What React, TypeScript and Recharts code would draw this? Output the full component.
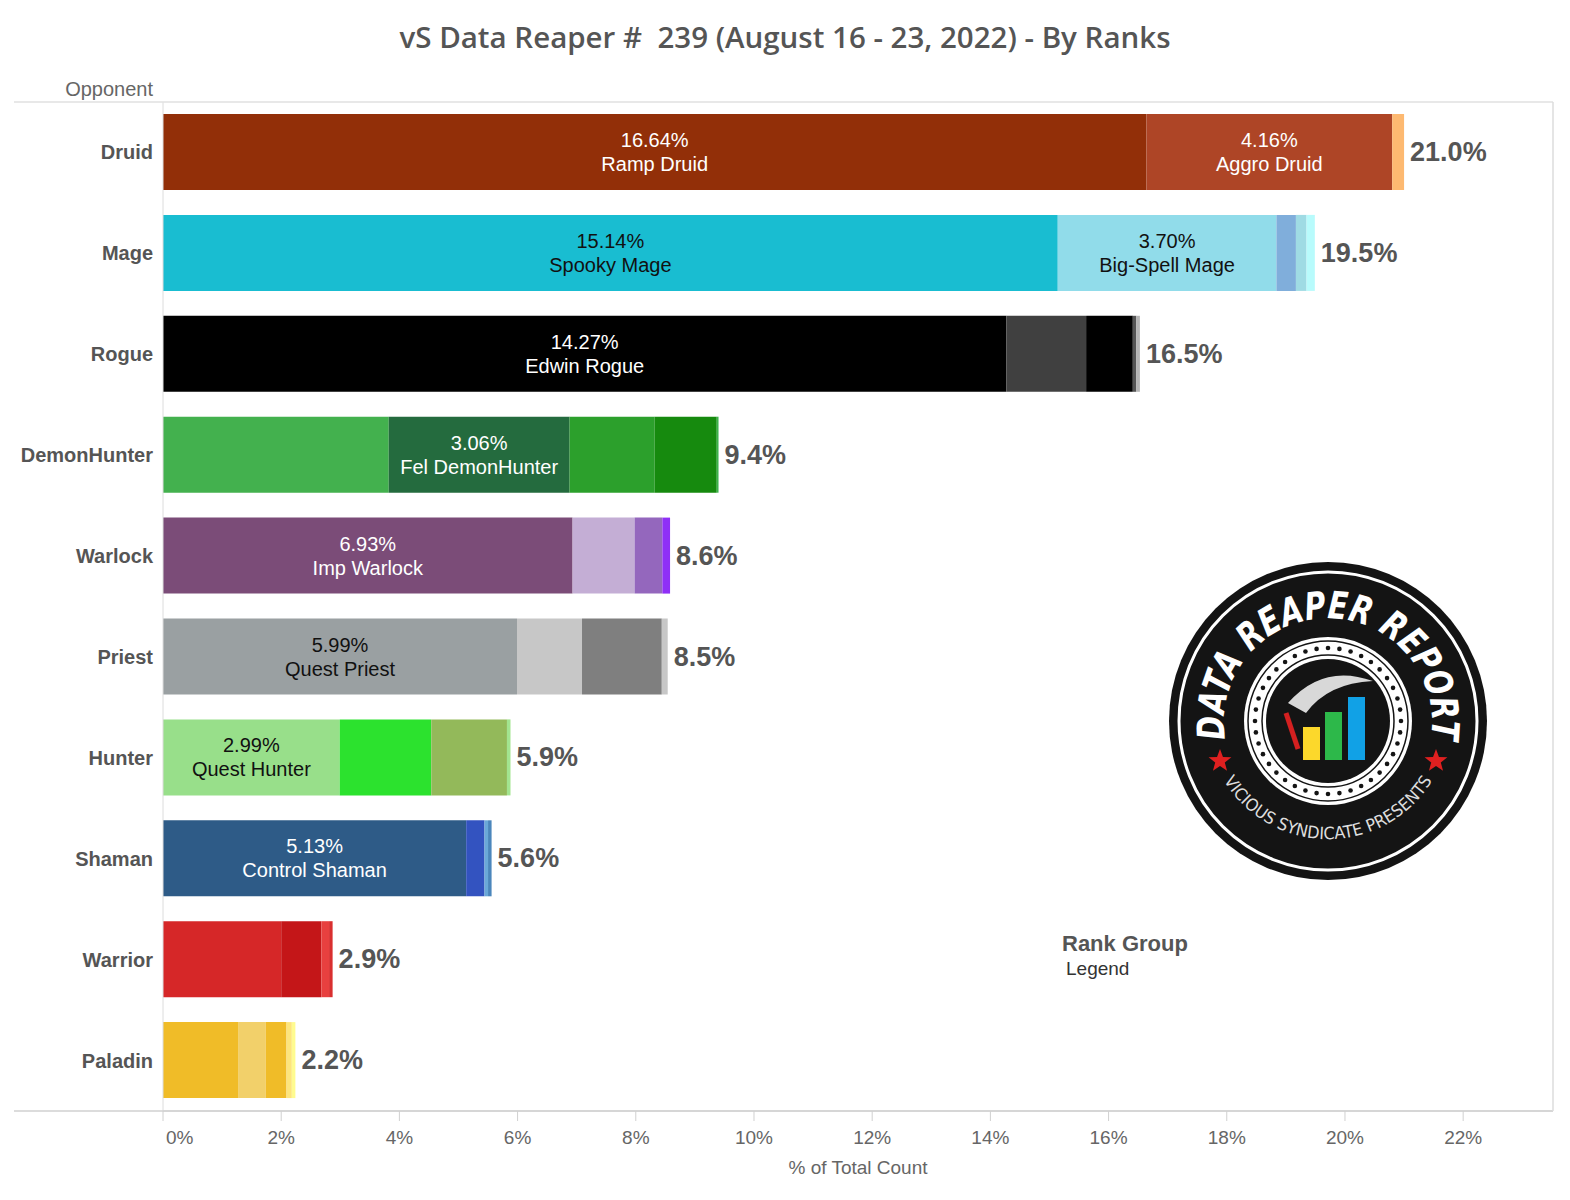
import React from "react";
import { BarChart, Bar, Cell, XAxis, YAxis, LabelList } from "recharts";

const classes = [
  "Druid",
  "Mage",
  "Rogue",
  "DemonHunter",
  "Warlock",
  "Priest",
  "Hunter",
  "Shaman",
  "Warrior",
  "Paladin",
];

// share of games (%) per archetype, in stack order
const druid = [16.64, 4.16, 0.2, 0, 0];
const mage = [15.14, 3.7, 0.33, 0.18, 0.14];
const rogue = [14.27, 1.35, 0.79, 0.06, 0.06];
const demonHunter = [3.82, 3.06, 1.44, 1.05, 0.03];
const warlock = [6.93, 1.05, 0.47, 0.13, 0];
const priest = [5.99, 1.1, 1.35, 0.1, 0];
const hunter = [2.99, 1.55, 1.28, 0.06, 0];
const shaman = [5.13, 0.31, 0.06, 0.06, 0];
const warrior = [2.0, 0.68, 0.13, 0.06, 0];
const paladin = [1.28, 0.46, 0.35, 0.09, 0.06];

const shares = [druid, mage, rogue, demonHunter, warlock, priest, hunter, shaman, warrior, paladin];

const deckNames = [
  ["Ramp Druid", "Aggro Druid"],
  ["Spooky Mage", "Big-Spell Mage"],
  ["Edwin Rogue"],
  ["", "Fel DemonHunter"],
  ["Imp Warlock"],
  ["Quest Priest"],
  ["Quest Hunter"],
  ["Control Shaman"],
  [],
  [],
];

const palette = [
  ["#922f08", "#ae4526", "#fdb971", "#fdb971", "#fdb971"],
  ["#19bdd1", "#91dcea", "#80aedb", "#9fdbe4", "#b8fbfc"],
  ["#000000", "#404040", "#000000", "#555555", "#b5b5b5"],
  ["#43b14e", "#246b3e", "#2ca02c", "#168a0e", "#3cb44b"],
  ["#7b4c78", "#c4aed5", "#9467bd", "#8f2ff7", "#8f2ff7"],
  ["#9aa0a2", "#c7c7c7", "#7f7f7f", "#c7c7c7", "#c7c7c7"],
  ["#98df8a", "#2ce22e", "#93b95a", "#a2e48f", "#a2e48f"],
  ["#2e5b87", "#3353c0", "#6aa8d8", "#4b86bc", "#4b86bc"],
  ["#d62728", "#c41618", "#e8403f", "#d92f2f", "#d92f2f"],
  ["#f0bc28", "#f2d06a", "#f0bc28", "#fde57c", "#fffb8f"],
];

const darkInk = ["Mage", "Priest", "Hunter"];

const xTicks = [0, 2, 4, 6, 8, 10, 12, 14, 16, 18, 20, 22];

const segKeys = ["s0", "s1", "s2", "s3", "s4"];

const rows = classes.map((name, i) => {
  const row: any = { name };
  segKeys.forEach((k, j) => (row[k] = shares[i][j]));
  return row;
});

const W = 1560;
const H = 1192;
const TOP = 102;
const LEFT = 14;
const AXIS_W = 149;
const RIGHT = 7;
const XAXIS_H = 81;
const PLOT_L = LEFT + AXIS_W;
const PLOT_R = W - RIGHT;
const PLOT_B = H - XAXIS_H;
const X_MAX = 23.52;

const FONT = "'Liberation Sans', Arial, sans-serif";

const segmentLabel = (seg: number) => (props: any) => {
  const { x, y, width, height, index } = props;
  const name = deckNames[index] && deckNames[index][seg];
  if (!name) return null;
  const cx = Number(x) + Number(width) / 2;
  const cy = Number(y) + Number(height) / 2;
  const fill = darkInk.includes(classes[index]) ? "#111" : "#fff";
  return (
    <g>
      <text x={cx} y={cy - 12} textAnchor="middle" dominantBaseline="central" fontSize={20} fill={fill} fontFamily={FONT}>
        {shares[index][seg].toFixed(2)}%
      </text>
      <text x={cx} y={cy + 12} textAnchor="middle" dominantBaseline="central" fontSize={20} fill={fill} fontFamily={FONT}>
        {name}
      </text>
    </g>
  );
};

// attached to the first segment (never empty); its pixel width per unit gives the bar end
const totalLabel = (props: any) => {
  const { x, y, width, height, index } = props;
  const first = shares[index][0];
  const total = shares[index].reduce((a, b) => a + b, 0);
  const end = Number(x) + (Number(width) * total) / first;
  return (
    <text
      x={end + 6}
      y={Number(y) + Number(height) / 2}
      dominantBaseline="central"
      fontSize={27}
      fontWeight="bold"
      fill="#555"
      fontFamily={FONT}
    >
      {total.toFixed(1)}%
    </text>
  );
};

const CategoryTick = (props: any) => {
  const { x, y, payload } = props;
  return (
    <text x={x} y={y} textAnchor="end" dominantBaseline="central" fontSize={20} fontWeight="bold" fill="#555" fontFamily={FONT}>
      {payload.value}
    </text>
  );
};

const PercentTick = (props: any) => {
  const { x, y, payload } = props;
  const first = payload.value === 0;
  return (
    <text
      x={first ? x + 3 : x}
      y={y + 14}
      textAnchor={first ? "start" : "middle"}
      dominantBaseline="central"
      fontSize={19}
      fill="#666"
      fontFamily={FONT}
    >
      {payload.value}%
    </text>
  );
};

const star = (cx: number, cy: number, r: number) => {
  const pts: string[] = [];
  for (let k = 0; k < 10; k++) {
    const a = -Math.PI / 2 + (k * Math.PI) / 5;
    const rr = k % 2 === 0 ? r : r * 0.42;
    pts.push(`${cx + rr * Math.cos(a)},${cy + rr * Math.sin(a)}`);
  }
  return pts.join(" ");
};

// decorative badge drawn in the empty corner
const Badge = () => {
  const cx = 1328;
  const cy = 721;
  const dots = Array.from({ length: 40 }, (_, k) => (k * 2 * Math.PI) / 40);
  return (
    <g>
      <circle cx={cx} cy={cy} r={159} fill="#141414" />
      <circle cx={cx} cy={cy} r={149} fill="none" stroke="#fff" strokeWidth={3} />
      <path id="badgeTop" d={`M ${cx - 100} ${cy + 30} A 104 104 0 1 1 ${cx + 100} ${cy + 30}`} fill="none" />
      <text fontSize={38} fontWeight="bold" fill="#fff" fontFamily="'DejaVu Sans Condensed', sans-serif" fontStyle="italic">
        <textPath href="#badgeTop" startOffset="50%" textAnchor="middle" textLength={360} lengthAdjust="spacingAndGlyphs">
          DATA REAPER REPORT
        </textPath>
      </text>
      <path id="badgeBottom" d={`M ${cx - 116} ${cy + 34} A 122 122 0 0 0 ${cx + 116} ${cy + 34}`} fill="none" />
      <text fontSize={17} fill="#ddd" fontFamily="'DejaVu Sans', sans-serif">
        <textPath href="#badgeBottom" startOffset="50%" textAnchor="middle" textLength={250} lengthAdjust="spacingAndGlyphs">
          VICIOUS SYNDICATE PRESENTS
        </textPath>
      </text>
      <polygon points={star(cx - 108, cy + 40, 12)} fill="#e02020" />
      <polygon points={star(cx + 108, cy + 40, 12)} fill="#e02020" />
      <circle cx={cx} cy={cy} r={84} fill="#fff" />
      <circle cx={cx} cy={cy} r={80} fill="none" stroke="#141414" strokeWidth={1.5} />
      {dots.map((a, k) => (
        <circle key={k} cx={cx + 73 * Math.cos(a)} cy={cy + 73 * Math.sin(a)} r={2.3} fill="#141414" />
      ))}
      <circle cx={cx} cy={cy} r={66} fill="none" stroke="#141414" strokeWidth={1.5} />
      <circle cx={cx} cy={cy} r={62} fill="#141414" />
      <path d={`M ${cx - 40} ${cy - 18} Q ${cx - 5} ${cy - 58} ${cx + 45} ${cy - 40} Q ${cx} ${cy - 38} ${cx - 22} ${cy - 8} Z`} fill="#d8d8d8" />
      <path d={`M ${cx - 42} ${cy - 8} L ${cx - 30} ${cy + 28}`} stroke="#d42020" strokeWidth={5} />
      <rect x={cx - 25} y={cy + 6} width={17} height={33} fill="#fcd82b" />
      <rect x={cx - 3} y={cy - 9} width={17} height={48} fill="#2db84a" />
      <rect x={cx + 20} y={cy - 24} width={17} height={63} fill="#11a1e6" />
    </g>
  );
};

export default function App() {
  return (
    <div style={{ position: "relative", width: W, height: H, margin: "-8px 0 0 -8px", background: "#fff" }}>
      <div
        style={{
          position: "absolute",
          top: 17,
          left: 0,
          width: 1570,
          textAlign: "center",
          whiteSpace: "pre",
          fontFamily: "'Open Sans', sans-serif",
          fontWeight: 600,
          fontSize: 29.5,
          lineHeight: "40px",
          color: "#555",
        }}
      >
        {"vS Data Reaper #  239 (August 16 - 23, 2022) - By Ranks"}
      </div>
      <BarChart
        width={W}
        height={H}
        data={rows}
        layout="vertical"
        margin={{ top: TOP, right: RIGHT, bottom: 0, left: LEFT }}
        barSize={76}
      >
        <XAxis
          type="number"
          domain={[0, X_MAX]}
          ticks={xTicks}
          height={XAXIS_H}
          stroke="#d0d0d0"
          tickSize={10}
          tick={<PercentTick />}
          label={{
            value: "% of Total Count",
            position: "insideBottom",
            offset: 18,
            fill: "#666",
            fontSize: 19,
            fontFamily: FONT,
          }}
        />
        <YAxis
          type="category"
          dataKey="name"
          width={AXIS_W}
          stroke="#dcdcdc"
          tickLine={false}
          tickSize={0}
          tickMargin={10}
          tick={<CategoryTick />}
        />
        {segKeys.map((k, j) => (
          <Bar key={k} dataKey={k} stackId="a" isAnimationActive={false}>
            {rows.map((_, i) => (
              <Cell key={i} fill={palette[i][j]} />
            ))}
            <LabelList dataKey={k} content={segmentLabel(j)} />
            {j === 0 && <LabelList dataKey={k} content={totalLabel} />}
          </Bar>
        ))}
      </BarChart>
      <svg width={W} height={H} style={{ position: "absolute", top: 0, left: 0, pointerEvents: "none" }}>
        <line x1={LEFT} y1={TOP} x2={PLOT_R} y2={TOP} stroke="#e0e0e0" strokeWidth={1.5} />
        <line x1={LEFT} y1={PLOT_B} x2={PLOT_R} y2={PLOT_B} stroke="#d0d0d0" strokeWidth={1.5} />
        <line x1={PLOT_R} y1={TOP} x2={PLOT_R} y2={PLOT_B} stroke="#dcdcdc" strokeWidth={1.5} />
        <text x={PLOT_L - 10} y={89} textAnchor="end" dominantBaseline="central" fontSize={20} fill="#666" fontFamily={FONT}>
          Opponent
        </text>
        <text x={1062} y={943} dominantBaseline="central" fontSize={22} fontWeight="bold" fill="#555" fontFamily={FONT}>
          Rank Group
        </text>
        <text x={1066} y={968} dominantBaseline="central" fontSize={19} fill="#333" fontFamily={FONT}>
          Legend
        </text>
        <Badge />
      </svg>
    </div>
  );
}
